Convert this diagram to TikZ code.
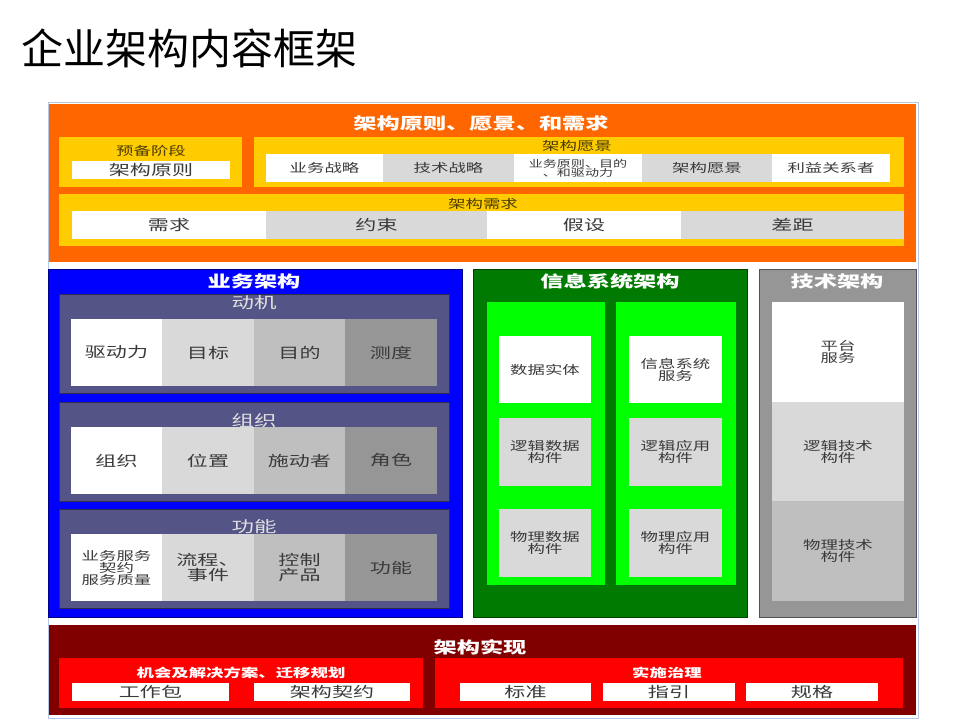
\documentclass[tikz,border=0pt]{standalone}
\usepackage{fontspec}
\setmainfont{Noto Sans CJK SC}
\newfontfamily\cnw[FakeStretch=1.45]{Noto Sans CJK SC}
\usetikzlibrary{positioning}
\definecolor{corange}{HTML}{FF6600}
\definecolor{cyellow}{HTML}{FFCC00}
\definecolor{cblue}{HTML}{0000FF}
\definecolor{cslate}{HTML}{545487}
\definecolor{cdkgreen}{HTML}{007A00}
\definecolor{cgreen}{HTML}{00FF00}
\definecolor{cgrey}{HTML}{969696}
\definecolor{cdkred}{HTML}{800000}
\definecolor{cred}{HTML}{FF0000}
\definecolor{clight}{HTML}{D9D9D9}
\definecolor{cmid}{HTML}{BFBFBF}
\definecolor{ctext}{HTML}{3A3A3A}
\definecolor{cbrown}{HTML}{4A3B00}
\definecolor{cframe}{HTML}{B4C7E7}
\tikzset{
  panel/.style={fill=#1, draw=#1!55!black, line width=1pt, inner sep=0pt},
  band/.style={fill=#1, inner sep=0pt},
  cell/.style={fill=#1, inner sep=0pt, align=center, text=ctext, font=\cnw\fontsize{12}{11}\selectfont},
  cell/.default=white,
  bigcell/.style={cell=#1, font=\cnw\fontsize{14.5}{14.5}\selectfont},
  bigcell/.default=white,
  firstcell/.style={},
  head/.style={text=white, font=\cnw\bfseries\fontsize{16}{16}\selectfont},
  sub/.style={text=cbrown, font=\cnw\fontsize{12}{12}\selectfont},
  rowhead/.style={text=white!88!black, font=\cnw\fontsize{15.5}{15.5}\selectfont},
}

\begin{document}
\begin{tikzpicture}[x=1pt, y=-1pt]
  \useasboundingbox (0,0) rectangle (960,720);
  \node[font=\fontsize{42}{42}\selectfont, anchor=west] (title) at (18,48) {企业架构内容框架};
  \node[draw=cframe, line width=0.8pt, minimum width=870pt, minimum height=616pt, inner sep=0pt] (frame) at (483,410) {};

  % principles, vision and requirements
  \node[band=corange, minimum width=867pt, minimum height=158pt] (prv) at (482.5,183) {};
  \node[head] (prvt) at (481,123) {架构原则、愿景、和需求};
  \node[band=cyellow, minimum width=183pt, minimum height=50pt] (prep) at (150.5,162) {};
  \node[sub] (prept) at (151,151) {预备阶段};
  \node[bigcell, minimum width=158pt, minimum height=18pt] (prin) at (151,170) {架构原则};
  \node[band=cyellow, minimum width=650pt, minimum height=50pt] (vis) at (579,162) {};
  \node[sub] (vist) at (577,146) {架构愿景};
  \node[cell, minimum width=117pt, minimum height=28pt] (vis1) at (324.5,168) {业务战略};
  \node[cell=clight, minimum width=131pt, minimum height=28pt] (vis2) at (448.5,168) {技术战略};
  \node[cell, minimum width=128pt, minimum height=28pt, font=\cnw\fontsize{9.7}{9}\selectfont] (vis3) at (578,168) {业务原则、目的\\、和驱动力};
  \node[cell=clight, minimum width=130pt, minimum height=28pt] (vis4) at (707,168) {架构愿景};
  \node[cell, minimum width=118pt, minimum height=28pt] (vis5) at (831,168) {利益关系者};
  \node[band=cyellow, minimum width=845pt, minimum height=52pt] (req) at (481.5,220) {};
  \node[sub] (reqt) at (483,204) {架构需求};
  \node[bigcell, minimum width=194pt, minimum height=28pt] (req1) at (169,225) {需求};
  \node[bigcell=clight, minimum width=221pt, minimum height=28pt] (req2) at (376.5,225) {约束};
  \node[bigcell, minimum width=194pt, minimum height=28pt] (req3) at (584,225) {假设};
  \node[bigcell=clight, minimum width=223pt, minimum height=28pt] (req4) at (792.5,225) {差距};

  % business architecture
  \node[panel=cblue, minimum width=414pt, minimum height=348pt] (biz) at (255,443) {};
  \node[head] (bizt) at (254,281) {业务架构};
  \newcommand{\bizrow}[8]{% #1 name, #2 box y, #3 title y, #4 title, #5-#8 cells
    \node[panel=cslate, minimum width=390pt, minimum height=99pt] (#1) at (254,#2) {};
    \node[rowhead] (#1t) at (254,#3) {#4};
    \node[bigcell, firstcell, minimum width=91pt, minimum height=67pt] (#1a) at (116.5,#2+8.5) {#5};
    \node[bigcell=clight, minimum width=92pt, minimum height=67pt] (#1b) at (208,#2+8.5) {#6};
    \node[bigcell=cmid, minimum width=91pt, minimum height=67pt] (#1c) at (299.5,#2+8.5) {#7};
    \node[bigcell=cgrey, minimum width=92pt, minimum height=67pt] (#1d) at (391,#2+8.5) {#8};
  }
  \bizrow{mot}{344}{303}{动机}{驱动力}{目标}{目的}{测度}
  \bizrow{org}{452}{421}{组织}{组织}{位置}{施动者}{角色}
  \tikzset{firstcell/.style={font=\cnw\fontsize{12}{10.5}\selectfont}}
  \bizrow{fun}{559}{527}{功能}{业务服务\\契约\\服务质量}{流程、\\事件}{控制\\产品}{功能}

  % information systems architecture
  \node[panel=cdkgreen, minimum width=274pt, minimum height=348pt] (isa) at (610,443) {};
  \node[head] (isat) at (610,281) {信息系统架构};
  \node[band=cgreen, minimum width=118pt, minimum height=283pt] (data) at (546,443.5) {};
  \node[band=cgreen, minimum width=120pt, minimum height=283pt] (app) at (676,443.5) {};
  \node[cell, minimum width=92pt, minimum height=67pt] (data1) at (545,369.5) {数据实体};
  \node[cell=clight, minimum width=92pt, minimum height=68pt] (data2) at (545,452) {逻辑数据\\构件};
  \node[cell=clight, minimum width=92pt, minimum height=68pt] (data3) at (545,543) {物理数据\\构件};
  \node[cell, minimum width=93pt, minimum height=67pt] (app1) at (675.5,369.5) {信息系统\\服务};
  \node[cell=clight, minimum width=93pt, minimum height=68pt] (app2) at (675.5,452) {逻辑应用\\构件};
  \node[cell=clight, minimum width=93pt, minimum height=68pt] (app3) at (675.5,543) {物理应用\\构件};

  % technology architecture
  \node[panel=cgrey, minimum width=157pt, minimum height=348pt] (tech) at (837.5,443) {};
  \node[head] (techt) at (837,281) {技术架构};
  \node[cell, minimum width=132pt, minimum height=100pt] (tech1) at (838,352) {平台\\服务};
  \node[cell=clight, minimum width=132pt, minimum height=99pt] (tech2) at (838,451.5) {逻辑技术\\构件};
  \node[cell=cmid, minimum width=132pt, minimum height=100pt] (tech3) at (838,551) {物理技术\\构件};

  % architecture realisation
  \node[band=cdkred, minimum width=867pt, minimum height=90pt] (real) at (482.5,670) {};
  \node[head] (realt) at (480,647) {架构实现};
  \node[band=cred, minimum width=364pt, minimum height=50pt] (opp) at (241,683) {};
  \node[head, font=\cnw\bfseries\fontsize{12}{12}\selectfont] (oppt) at (241,673) {机会及解决方案、迁移规划};
  \node[bigcell, minimum width=157pt, minimum height=18pt] (opp1) at (150.5,692) {工作包};
  \node[bigcell, minimum width=156pt, minimum height=18pt] (opp2) at (332,692) {架构契约};
  \node[band=cred, minimum width=468pt, minimum height=50pt] (gov) at (669,683) {};
  \node[head, font=\cnw\bfseries\fontsize{12}{12}\selectfont] (govt) at (667,673) {实施治理};
  \node[bigcell, minimum width=131pt, minimum height=18pt] (gov1) at (525.5,692) {标准};
  \node[bigcell, minimum width=132pt, minimum height=18pt] (gov2) at (669,692) {指引};
  \node[bigcell, minimum width=132pt, minimum height=18pt] (gov3) at (812,692) {规格};
\end{tikzpicture}
\end{document}
